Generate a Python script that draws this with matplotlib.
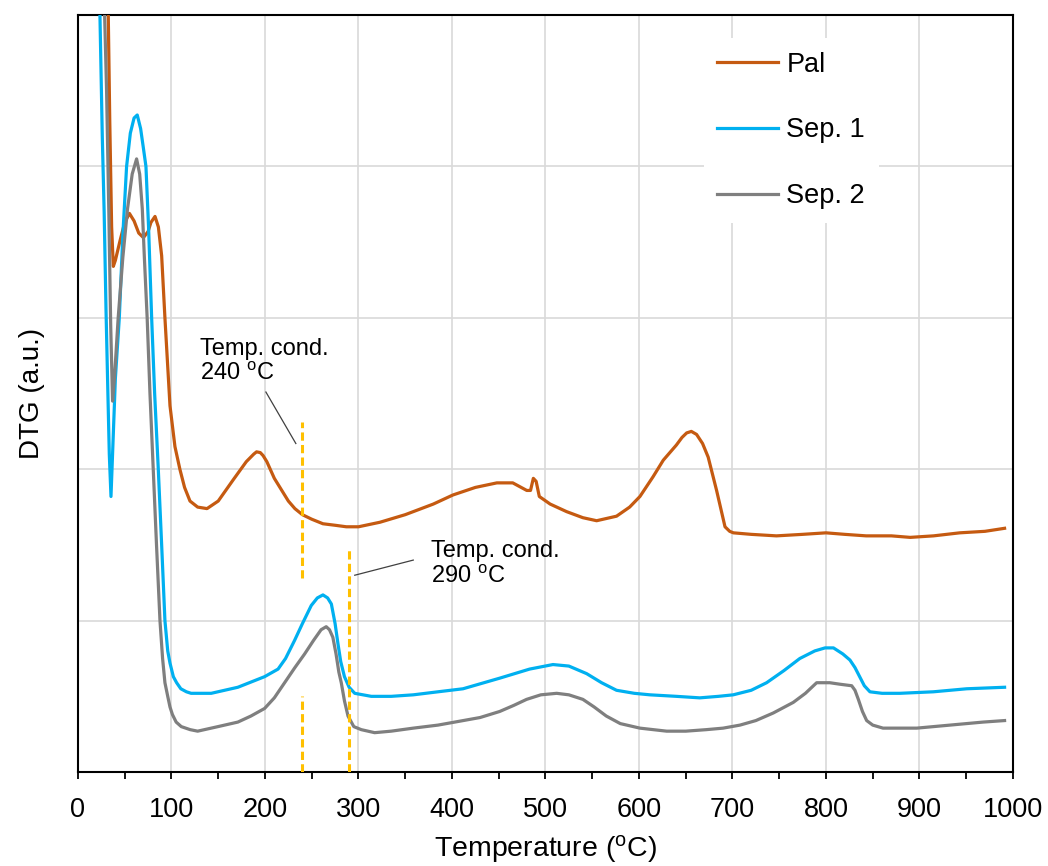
import numpy as np
import matplotlib
matplotlib.use('Agg')
import matplotlib.pyplot as plt

plt.rcParams['font.family'] = ['Liberation Sans', 'DejaVu Sans']
plt.rcParams['mathtext.fontset'] = 'custom'
plt.rcParams['mathtext.rm'] = 'Liberation Sans'
plt.rcParams['mathtext.it'] = 'Liberation Sans:italic'

# DTG curves (temperature in ºC, signal in arbitrary units)
pal_t = [30, 32.4, 34, 36, 37.8, 40, 45, 50, 55, 60, 65, 70, 75, 78, 82.4, 86, 89.5, 93,
         98.4, 103.7, 109, 114, 119.8, 128, 138, 150, 166, 180, 188, 191, 195, 198, 202,
         210, 216, 225, 232, 240, 250, 262, 275, 287, 300, 323, 350, 380, 401, 425, 448,
         465, 480, 484, 487, 490, 493.4, 505, 522.6, 540, 554.7, 576, 590, 601, 615, 626,
         640, 646, 651, 656, 661.6, 668, 674, 683, 692, 697, 701, 720, 747, 775, 800, 820,
         843, 870, 890, 915, 943, 970, 991]
pal_y = [5.6, 5.0, 4.3, 3.6, 3.34, 3.38, 3.51, 3.63, 3.69, 3.64, 3.56, 3.53, 3.57, 3.63,
         3.67, 3.6, 3.41, 3.0, 2.42, 2.15, 2.0, 1.88, 1.79, 1.75, 1.74, 1.79, 1.93, 2.05,
         2.10, 2.115, 2.11, 2.09, 2.05, 1.94, 1.88, 1.79, 1.74, 1.70, 1.67, 1.64, 1.63, 1.62,
         1.62, 1.65, 1.70, 1.77, 1.83, 1.88, 1.91, 1.91, 1.86, 1.86, 1.94, 1.92, 1.82, 1.77,
         1.72, 1.68, 1.66, 1.69, 1.75, 1.82, 1.95, 2.06, 2.16, 2.21, 2.24, 2.25, 2.23, 2.17,
         2.08, 1.86, 1.62, 1.59, 1.58, 1.57, 1.56, 1.57, 1.58, 1.57, 1.56, 1.56, 1.55, 1.56,
         1.58, 1.59, 1.61]

sep1_t = [21, 23.5, 26, 28, 30, 32, 33.5, 35.3, 37, 40, 44.2, 48, 52, 56, 60, 63.4, 67, 70,
          72.7, 75.5, 78.8, 82, 85.9, 89.5, 93, 96, 98.4, 102, 105.5, 110, 116, 121, 142.5,
          171, 199.6, 214, 222, 231.7, 240, 249.5, 256, 262, 267, 271, 275, 278, 281, 285,
          290, 296, 313.7, 335, 358.6, 385, 411.8, 451, 483, 508, 525, 544, 560, 576, 595,
          611.7, 640, 665, 685, 700.8, 720, 736.5, 755, 772, 788, 799, 808, 818, 825.6, 831,
          836, 841, 847, 860, 879, 914.8, 950.5, 991]
sep1_y = [5.6, 5.0, 4.2, 3.7, 3.05, 2.5, 2.1, 1.82, 2.1, 2.6, 3.0, 3.55, 4.0, 4.22, 4.32,
          4.34, 4.25, 4.12, 4.0, 3.6, 3.0, 2.5, 2.0, 1.5, 1.0, 0.8, 0.72, 0.63, 0.59, 0.55,
          0.53, 0.52, 0.52, 0.56, 0.63, 0.68, 0.75, 0.87, 0.98, 1.10, 1.15, 1.17, 1.15, 1.11,
          0.98, 0.85, 0.73, 0.63, 0.56, 0.52, 0.50, 0.50, 0.51, 0.53, 0.55, 0.62, 0.68, 0.71,
          0.70, 0.65, 0.59, 0.54, 0.52, 0.51, 0.50, 0.49, 0.50, 0.51, 0.54, 0.59, 0.67, 0.75,
          0.80, 0.82, 0.82, 0.78, 0.74, 0.69, 0.63, 0.57, 0.53, 0.52, 0.52, 0.53, 0.55, 0.56]

sep2_t = [26, 28.5, 30.6, 33, 35, 37, 39, 43, 48, 53, 58, 62.7, 66, 68.8, 71, 74, 77, 80.5,
          84, 87.7, 90.5, 93, 96, 98.4, 101, 105, 110.5, 120, 128, 149.7, 171, 185, 199.6,
          210, 221, 232, 242.4, 252, 260, 265.5, 269, 272.6, 276, 279, 281.6, 285, 288.8,
          295, 303, 317.3, 335, 358.6, 385, 412, 430, 451, 466, 479.8, 495, 512, 525, 540,
          552, 565, 580, 601, 629.6, 650, 672, 690, 708, 725, 743.6, 765, 778, 790, 804, 815,
          827.5, 831, 834.6, 839, 843.5, 850, 861, 897, 932.6, 968, 991]
sep2_y = [5.6, 5.0, 4.5, 3.7, 2.95, 2.45, 2.6, 3.0, 3.4, 3.72, 3.95, 4.05, 3.95, 3.72, 3.4,
          3.0, 2.5, 2.0, 1.5, 1.0, 0.75, 0.59, 0.5, 0.43, 0.38, 0.33, 0.30, 0.28, 0.27, 0.30,
          0.33, 0.37, 0.42, 0.49, 0.59, 0.69, 0.78, 0.87, 0.94, 0.96, 0.94, 0.89, 0.78, 0.66,
          0.59, 0.47, 0.37, 0.30, 0.28, 0.26, 0.27, 0.29, 0.31, 0.34, 0.36, 0.40, 0.44, 0.48,
          0.51, 0.52, 0.51, 0.48, 0.43, 0.37, 0.32, 0.29, 0.27, 0.27, 0.28, 0.29, 0.31, 0.34,
          0.39, 0.46, 0.52, 0.59, 0.59, 0.58, 0.57, 0.54, 0.48, 0.40, 0.34, 0.31, 0.29, 0.29,
          0.31, 0.33, 0.34]

# condensation temperatures (dashed markers)
cond_t = [240, 240, 290]
cond_lo = [1.28, 0.0, 0.0]
cond_hi = [2.31, 0.50, 1.47]

# annotation texts and their leader lines
note_text = ['Temp. cond.\n240 $^{\\mathrm{o}}$C', 'Temp. cond.\n290 $^{\\mathrm{o}}$C']
note_pos = [(130.5, 2.87), (378, 1.53)]
leader_t = [(201, 233), (358.6, 296)]
leader_y = [(2.51, 2.17), (1.40, 1.30)]

fig = plt.figure(figsize=(10.48, 8.66), dpi=100)
ax = fig.add_axes([0.0744, 0.1085, 0.8922, 0.8741])

ax.plot(pal_t, pal_y, color='#C55A11', lw=2.3, label='Pal', zorder=3)
ax.plot(sep1_t, sep1_y, color='#00B0F0', lw=2.3, label='Sep. 1', zorder=3)
ax.plot(sep2_t, sep2_y, color='#7F7F7F', lw=2.3, label='Sep. 2', zorder=3)

for t, lo, hi in zip(cond_t, cond_lo, cond_hi):
    ax.plot([t, t], [lo, hi], color='#FFC000', lw=2.2, dashes=(2.7, 1.4), zorder=4)

for txt, (tx, ty), lt, ly in zip(note_text, note_pos, leader_t, leader_y):
    ax.text(tx, ty, txt, fontsize=17, va='top', ha='left', color='black', linespacing=1.2)
    ax.plot(lt, ly, color='#404040', lw=0.9, zorder=4)

ax.set_xlim(0, 1000)
ax.set_ylim(0, 5)
ax.set_xticks(np.arange(0, 1001, 100))
ax.set_xticks(np.arange(0, 1001, 50), minor=True)
ax.set_yticks(np.arange(0, 6, 1))
ax.set_yticklabels([])
ax.tick_params(axis='y', length=0)
ax.tick_params(axis='x', which='both', direction='out', length=5, width=1.3,
               labelsize=19.5, pad=13)
ax.grid(True, which='major', color='#D9D9D9', lw=1.2, zorder=0)
ax.set_axisbelow(True)
for sp in ax.spines.values():
    sp.set_linewidth(1.5)
    sp.set_color('black')

ax.set_xlabel('Temperature ($^{\\mathrm{o}}$C)', fontsize=20.5, labelpad=7)
ax.set_ylabel('DTG (a.u.)', fontsize=20, labelpad=20.5)

leg = ax.legend(loc='upper left', bbox_to_anchor=(0.669, 0.9696), fontsize=19.5,
                frameon=True, facecolor='white', edgecolor='none', framealpha=1,
                handlelength=2.26, handletextpad=0.3, labelspacing=1.47,
                borderpad=0.5, borderaxespad=0)
for line in leg.get_lines():
    line.set_linewidth(2.3)

fig.savefig('out.png', dpi=100)
